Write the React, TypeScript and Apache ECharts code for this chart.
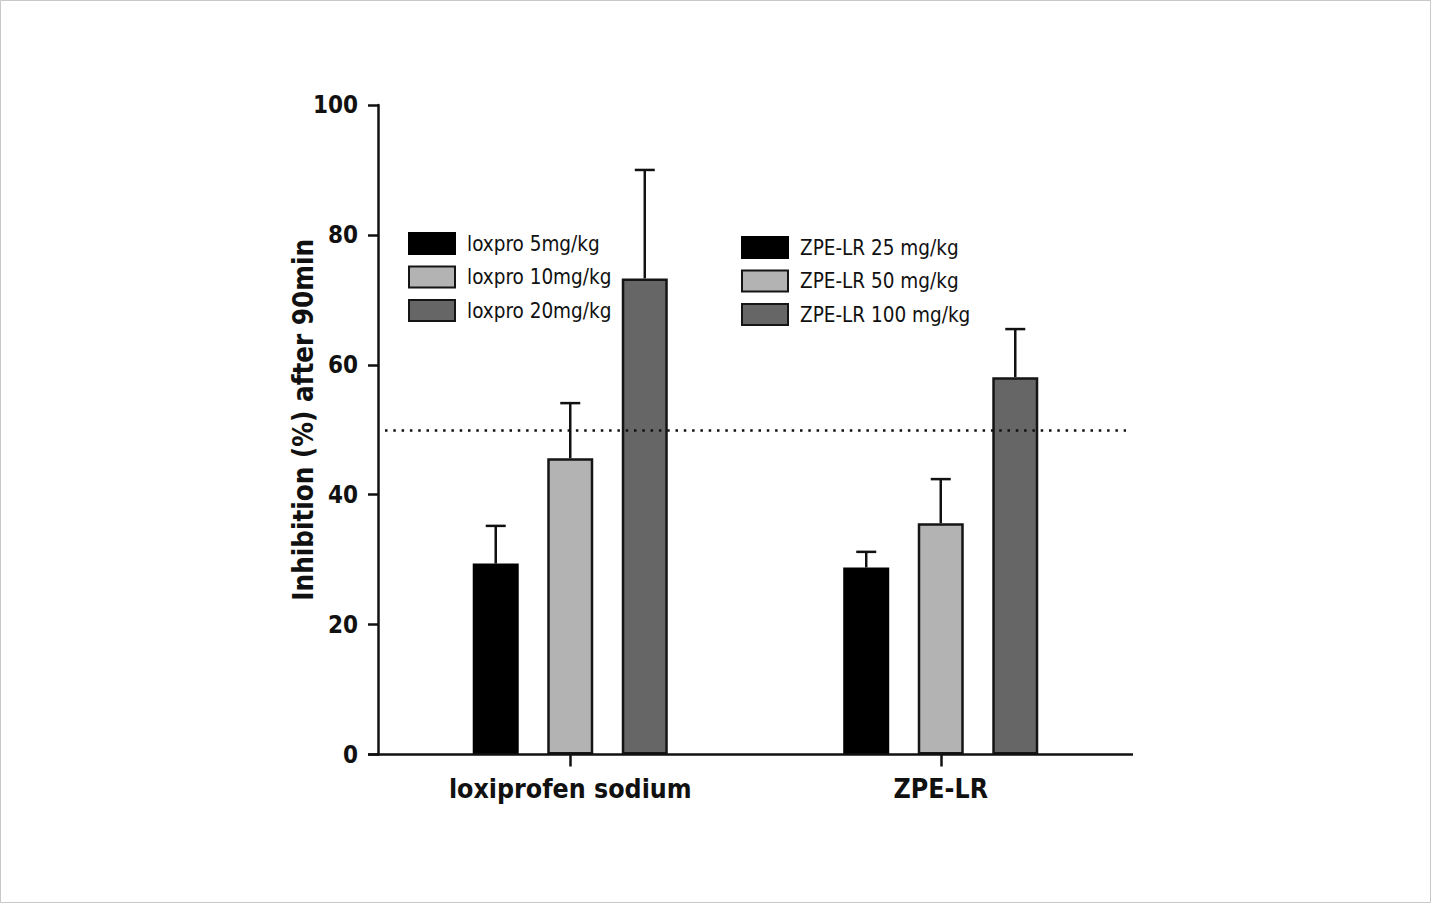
import React, { useEffect, useRef } from "react";
import * as echarts from "echarts";

const categories = ["loxiprofen sodium", "ZPE-LR"];
const loxNames = ["loxpro 5mg/kg", "loxpro 10mg/kg", "loxpro 20mg/kg"];
const zpeNames = ["ZPE-LR 25 mg/kg", "ZPE-LR 50 mg/kg", "ZPE-LR 100 mg/kg"];
const loxMean = [29.4, 45.6, 73.3];
const loxUpper = [35.2, 54.1, 90.0];
const zpeMean = [28.8, 35.6, 58.1];
const zpeUpper = [31.2, 42.4, 65.5];
const referenceLine = 50;
const yTicks = [0, 20, 40, 60, 80, 100];

const FONT = "'Liberation Sans Narrow', 'DejaVu Sans Condensed', 'Liberation Sans', sans-serif";
const fills = ["#000000", "#b3b3b3", "#666666"];
const BAR_W = 46;
const BAR_GAP = 0.62;
const BAR_STEP = BAR_W * (1 + BAR_GAP);

export default function App() {
  const ref = useRef<HTMLDivElement>(null);
  useEffect(() => {
    document.body.style.margin = "0";
    const chart = echarts.init(ref.current!, null, { renderer: "svg" });

    const barSeries: any[] = [];
    loxNames.forEach((n, i) => {
      barSeries.push({
        name: n,
        type: "bar",
        stack: "s" + i,
        barWidth: BAR_W,
        barGap: BAR_GAP * 100 + "%",
        data: [loxMean[i], "-"],
        itemStyle: { color: fills[i], borderColor: i === 0 ? "#000" : "#151515", borderWidth: 2.5 },
        z: 3,
      });
    });
    zpeNames.forEach((n, i) => {
      barSeries.push({
        name: n,
        type: "bar",
        stack: "s" + i,
        barWidth: BAR_W,
        barGap: BAR_GAP * 100 + "%",
        data: ["-", zpeMean[i]],
        itemStyle: { color: fills[i], borderColor: i === 0 ? "#000" : "#151515", borderWidth: 2.5 },
        z: 3,
      });
    });
    barSeries[0].markLine = {
      silent: true,
      symbol: "none",
      label: { show: false },
      lineStyle: { color: "#111", width: 2.5, type: [2.5, 5.8] },
      data: [{ yAxis: referenceLine }],
      z: 5,
    };

    const errData: number[][] = [];
    loxMean.forEach((m, i) => errData.push([0, i, m, loxUpper[i]]));
    zpeMean.forEach((m, i) => errData.push([1, i, m, zpeUpper[i]]));

    const errSeries = {
      type: "custom",
      name: "err",
      data: errData,
      encode: { x: 0, y: 3 },
      z: 2,
      renderItem: (params: any, api: any) => {
        const cat = api.value(0);
        const bi = api.value(1);
        const base = api.coord([cat, api.value(2)]);
        const top = api.coord([cat, api.value(3)]);
        const x = base[0] + (bi - 1) * BAR_STEP;
        const st = { stroke: "#111", lineWidth: 2.5 };
        return {
          type: "group",
          children: [
            { type: "line", shape: { x1: x, y1: base[1], x2: x, y2: top[1] }, style: st },
            { type: "line", shape: { x1: x - 10, y1: top[1], x2: x + 10, y2: top[1] }, style: st },
          ],
        };
      },
    };

    const legendText = { fontFamily: FONT, fontSize: 20.5, color: "#111", lineHeight: 21 };

    chart.setOption({
      animation: false,
      backgroundColor: "#ffffff",
      grid: { left: 385, right: 305, top: 105, bottom: 148.5, containLabel: false },
      legend: [
        {
          data: loxNames,
          orient: "vertical",
          left: 408,
          top: 232,
          padding: 0,
          icon: "rect",
          itemWidth: 46,
          itemHeight: 21,
          itemGap: 10.5,
          selectedMode: false,
          textStyle: { ...legendText, padding: [0, 0, 0, 7] },
        },
        {
          data: zpeNames,
          orient: "vertical",
          left: 741,
          top: 236,
          padding: 0,
          icon: "rect",
          itemWidth: 46,
          itemHeight: 21,
          itemGap: 10.5,
          selectedMode: false,
          textStyle: { ...legendText, padding: [0, 0, 0, 7] },
        },
      ],
      xAxis: {
        type: "category",
        data: categories,
        axisLine: { show: false },
        axisTick: { show: true, alignWithLabel: true, length: 12, lineStyle: { color: "#111", width: 2.5 } },
        axisLabel: { interval: 0, fontFamily: FONT, fontWeight: "bold", fontSize: 26.5, color: "#111", margin: 20 },
        splitLine: { show: false },
      },
      yAxis: {
        type: "value",
        min: yTicks[0],
        max: yTicks[yTicks.length - 1],
        interval: 20,
        offset: 7,
        name: "Inhibition (%) after 90min",
        nameLocation: "middle",
        nameGap: 61,
        nameMoveOverlap: false,
        nameTextStyle: { fontFamily: FONT, fontWeight: "bold", fontSize: 27.5, color: "#111", padding: [0, 0, 0, 20] },
        axisLine: { show: true, lineStyle: { color: "#111", width: 2.5 } },
        axisTick: { show: true, length: 10, lineStyle: { color: "#111", width: 2.5 } },
        axisLabel: { fontFamily: FONT, fontWeight: "bold", fontSize: 24, color: "#111", margin: 20 },
        splitLine: { show: false },
      },
      graphic: [
        {
          type: "rect",
          shape: { x: 0.5, y: 0.5, width: 1430, height: 902 },
          style: { fill: "none", stroke: "#c8c8c8", lineWidth: 1 },
          silent: true,
        },
        {
          type: "line",
          shape: { x1: 368, y1: 754.5, x2: 1133, y2: 754.5 },
          style: { stroke: "#111", lineWidth: 2.5 },
          z: 10,
          silent: true,
        },
      ],
      series: [...barSeries, errSeries],
    });
    return () => chart.dispose();
  }, []);
  return <div ref={ref} style={{ width: 1431, height: 903 }} />;
}
